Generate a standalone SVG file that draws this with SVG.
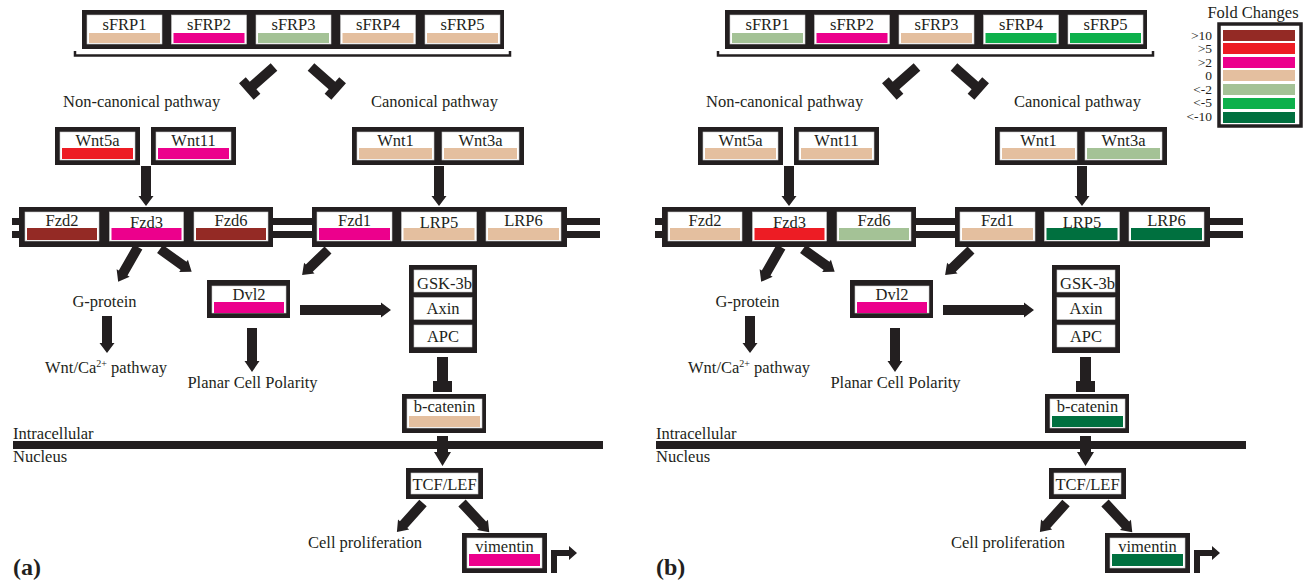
<svg xmlns="http://www.w3.org/2000/svg" width="1309" height="581" viewBox="0 0 1309 581">
<style>
.blk{fill:#231f20}
.in{fill:#fff;stroke:#c8c8c8;stroke-width:0.6}
.t{font-family:"Liberation Serif","Times New Roman",serif;font-size:16.5px;fill:#231f20}
.c{text-anchor:middle}
.e{text-anchor:end}
.lg{font-family:"Liberation Serif","Times New Roman",serif;font-size:13.5px;fill:#231f20;text-anchor:end}
.lbl{font-family:"Liberation Serif","Times New Roman",serif;font-size:24px;font-weight:bold;fill:#231f20}
.f10{fill:#942a25}
.f5{fill:#ed1c24}
.f2{fill:#ec008c}
.f0{fill:#e4bf9f}
.fm2{fill:#a4c296}
.fm5{fill:#0db04b}
.fm10{fill:#00703f}
</style>
<rect width="1309" height="581" fill="#fff"/>

<!-- ================= PANEL A ================= -->
<g id="panel-a">
<g id="a-membrane" class="blk">
<rect x="12" y="218" width="588" height="7"/>
<rect x="12" y="231" width="588" height="7"/>
<rect id="a-nuclear-membrane" x="13" y="441" width="590" height="8"/>
</g>
<g id="a-connectors" class="blk">
<polyline points="75,51 75,55.5 510,55.5 510,51" fill="none" stroke="#231f20" stroke-width="2.5"/>
<path transform="translate(274,67) rotate(138.4)" d="M0,-5H28V-11H37V11H28V5H0Z"/>
<path transform="translate(311,67) rotate(41.6)" d="M0,-5H28V-11H37V11H28V5H0Z"/>
<path transform="translate(146,166) rotate(90)" d="M0,-5H30V-7.5L40,0L30,7.5V5H0Z"/>
<path transform="translate(439,166) rotate(90)" d="M0,-5H30V-7.5L40,0L30,7.5V5H0Z"/>
<path transform="translate(138,247) rotate(119.7)" d="M0,-5H30V-7.5L40,0L30,7.5V5H0Z"/>
<path transform="translate(160,249) rotate(35.7)" d="M0,-5H29V-7.5L39,0L29,7.5V5H0Z"/>
<path transform="translate(328,250) rotate(136)" d="M0,-5H26V-7.5L36,0L26,7.5V5H0Z"/>
<path transform="translate(300,310)" d="M0,-5H81V-7.5L91,0L81,7.5V5H0Z"/>
<path transform="translate(107,316) rotate(90)" d="M0,-5H27V-7.5L37,0L27,7.5V5H0Z"/>
<path transform="translate(252,328) rotate(90)" d="M0,-5H33V-7.5L44,0L33,7.5V5H0Z"/>
<path transform="translate(442.5,357) rotate(90)" d="M0,-5.5H24V-9.5H35V9.5H24V5.5H0Z"/>
<path transform="translate(442.5,436) rotate(90)" d="M0,-5.5H16V-8.5L30,0L16,8.5V5.5H0Z"/>
<path transform="translate(423,503) rotate(132)" d="M0,-5H29V-7.5L39,0L29,7.5V5H0Z"/>
<path transform="translate(462,503) rotate(47)" d="M0,-5H30V-7.5L40,0L30,7.5V5H0Z"/>
<path d="M551,573V550H569V546L577,553L569,560V556H557V573Z"/>
</g>
<g id="a-sfrp">
<rect class="blk" x="82" y="10" width="422" height="39"/>
<g id="a-sFRP1"><rect class="in" x="87" y="15" width="75" height="29"/><rect class="f0" x="89" y="33" width="71" height="10"/><text class="t c" x="124.5" y="30">sFRP1</text></g>
<g id="a-sFRP2"><rect class="in" x="171.5" y="15" width="75" height="29"/><rect class="f2" x="173.5" y="33" width="71" height="10"/><text class="t c" x="209" y="30">sFRP2</text></g>
<g id="a-sFRP3"><rect class="in" x="256" y="15" width="75" height="29"/><rect class="fm2" x="258" y="33" width="71" height="10"/><text class="t c" x="293.5" y="30">sFRP3</text></g>
<g id="a-sFRP4"><rect class="in" x="340.5" y="15" width="75" height="29"/><rect class="f0" x="342.5" y="33" width="71" height="10"/><text class="t c" x="378" y="30">sFRP4</text></g>
<g id="a-sFRP5"><rect class="in" x="425" y="15" width="75" height="29"/><rect class="f0" x="427" y="33" width="71" height="10"/><text class="t c" x="462.5" y="30">sFRP5</text></g>
</g>
<text class="t" x="63" y="107">Non-canonical pathway</text>
<text class="t" x="371" y="107">Canonical pathway</text>
<g id="a-Wnt5a"><rect class="blk" x="55" y="127" width="85" height="38"/><rect class="in" x="60" y="132" width="75" height="28"/><rect class="f5" x="62" y="148" width="71" height="11"/><text class="t c" x="97.5" y="146">Wnt5a</text></g>
<g id="a-Wnt11"><rect class="blk" x="151" y="127" width="85" height="38"/><rect class="in" x="156" y="132" width="75" height="28"/><rect class="f2" x="158" y="148" width="71" height="11"/><text class="t c" x="193.5" y="146">Wnt11</text></g>
<g id="a-Wnt1"><rect class="blk" x="352" y="127" width="86" height="38"/><rect class="in" x="357" y="132" width="77" height="28"/><rect class="f0" x="359" y="148" width="73" height="11"/><text class="t c" x="395.5" y="146">Wnt1</text></g>
<g id="a-Wnt3a"><rect class="blk" x="438" y="127" width="86" height="38"/><rect class="in" x="442" y="132" width="77" height="28"/><rect class="f0" x="444" y="148" width="73" height="11"/><text class="t c" x="480.5" y="146">Wnt3a</text></g>
<g id="a-receptors-left">
<rect class="blk" x="19" y="207" width="254" height="40"/>
<g id="a-Fzd2"><rect class="in" x="25" y="212" width="74" height="29"/><rect class="f10" x="27" y="228" width="70" height="12"/><text class="t c" x="62" y="226">Fzd2</text></g>
<g id="a-Fzd3"><rect class="in" x="109.5" y="212" width="74" height="29"/><rect class="f2" x="111.5" y="228" width="70" height="12"/><text class="t c" x="146.5" y="228">Fzd3</text></g>
<g id="a-Fzd6"><rect class="in" x="194" y="212" width="74" height="29"/><rect class="f10" x="196" y="228" width="70" height="12"/><text class="t c" x="231" y="226">Fzd6</text></g>
</g>
<g id="a-receptors-right">
<rect class="blk" x="312" y="207" width="255" height="40"/>
<g id="a-Fzd1"><rect class="in" x="317" y="212" width="75" height="29"/><rect class="f2" x="319" y="228" width="71" height="12"/><text class="t c" x="354.5" y="226">Fzd1</text></g>
<g id="a-LRP5"><rect class="in" x="401.5" y="212" width="75" height="29"/><rect class="f0" x="403.5" y="228" width="71" height="12"/><text class="t c" x="439" y="228">LRP5</text></g>
<g id="a-LRP6"><rect class="in" x="486" y="212" width="75" height="29"/><rect class="f0" x="488" y="228" width="71" height="12"/><text class="t c" x="523.5" y="226">LRP6</text></g>
</g>
<g id="a-Dvl2"><rect class="blk" x="207" y="280" width="83" height="38"/><rect class="in" x="212" y="286" width="74" height="27"/><rect class="f2" x="214" y="302" width="70" height="11"/><text class="t c" x="249" y="300">Dvl2</text></g>
<g id="a-destruction-complex">
<rect class="blk" x="409" y="265" width="68" height="88"/>
<g id="a-GSK3b"><rect class="in" x="414" y="270" width="58" height="22"/><text class="t c" x="444.5" y="289">GSK-3b</text></g>
<g id="a-Axin"><rect class="in" x="414" y="297.5" width="58" height="22"/><text class="t c" x="443" y="314">Axin</text></g>
<g id="a-APC"><rect class="in" x="414" y="325" width="58" height="22"/><text class="t c" x="443" y="342">APC</text></g>
</g>
<text class="t c" x="104.5" y="307">G-protein</text>
<text class="t" x="45" y="373">Wnt/Ca<tspan font-size="10" dy="-6">2+</tspan><tspan dy="6"> pathway</tspan></text>
<text class="t c" x="252.5" y="388">Planar Cell Polarity</text>
<g id="a-bcatenin"><rect class="blk" x="402" y="394" width="84" height="39"/><rect class="in" x="407" y="399" width="75" height="29"/><rect class="f0" x="409" y="416" width="71" height="11"/><text class="t c" x="444.5" y="412">b-catenin</text></g>
<text class="t" x="13" y="439">Intracellular</text>
<text class="t" x="13" y="462">Nucleus</text>
<g id="a-TCFLEF"><rect class="blk" x="406" y="468" width="77" height="31"/><rect class="in" x="411" y="473" width="67" height="21"/><text class="t c" x="444.5" y="490">TCF/LEF</text></g>
<text class="t" x="308" y="548">Cell proliferation</text>
<g id="a-vimentin"><rect class="blk" x="462" y="533" width="85" height="40"/><rect class="in" x="467" y="538" width="75" height="30"/><rect class="f2" x="469" y="554" width="71" height="12"/><text class="t c" x="504.5" y="552">vimentin</text></g>
<text class="lbl" x="13" y="575">(a)</text>
</g>

<!-- ================= PANEL B ================= -->
<g id="panel-b" transform="translate(643,0)">
<g id="b-membrane" class="blk">
<rect x="12" y="218" width="588" height="7"/>
<rect x="12" y="231" width="588" height="7"/>
<rect id="b-nuclear-membrane" x="13" y="441" width="590" height="8"/>
</g>
<g id="b-connectors" class="blk">
<polyline points="75,51 75,55.5 510,55.5 510,51" fill="none" stroke="#231f20" stroke-width="2.5"/>
<path transform="translate(274,67) rotate(138.4)" d="M0,-5H28V-11H37V11H28V5H0Z"/>
<path transform="translate(311,67) rotate(41.6)" d="M0,-5H28V-11H37V11H28V5H0Z"/>
<path transform="translate(146,166) rotate(90)" d="M0,-5H30V-7.5L40,0L30,7.5V5H0Z"/>
<path transform="translate(439,166) rotate(90)" d="M0,-5H30V-7.5L40,0L30,7.5V5H0Z"/>
<path transform="translate(138,247) rotate(119.7)" d="M0,-5H30V-7.5L40,0L30,7.5V5H0Z"/>
<path transform="translate(160,249) rotate(35.7)" d="M0,-5H29V-7.5L39,0L29,7.5V5H0Z"/>
<path transform="translate(328,250) rotate(136)" d="M0,-5H26V-7.5L36,0L26,7.5V5H0Z"/>
<path transform="translate(300,310)" d="M0,-5H81V-7.5L91,0L81,7.5V5H0Z"/>
<path transform="translate(107,316) rotate(90)" d="M0,-5H27V-7.5L37,0L27,7.5V5H0Z"/>
<path transform="translate(252,328) rotate(90)" d="M0,-5H33V-7.5L44,0L33,7.5V5H0Z"/>
<path transform="translate(442.5,357) rotate(90)" d="M0,-5.5H24V-9.5H35V9.5H24V5.5H0Z"/>
<path transform="translate(442.5,436) rotate(90)" d="M0,-5.5H16V-8.5L30,0L16,8.5V5.5H0Z"/>
<path transform="translate(423,503) rotate(132)" d="M0,-5H29V-7.5L39,0L29,7.5V5H0Z"/>
<path transform="translate(462,503) rotate(47)" d="M0,-5H30V-7.5L40,0L30,7.5V5H0Z"/>
<path d="M551,573V550H569V546L577,553L569,560V556H557V573Z"/>
</g>
<g id="b-sfrp">
<rect class="blk" x="82" y="10" width="422" height="39"/>
<g id="b-sFRP1"><rect class="in" x="87" y="15" width="75" height="29"/><rect class="fm2" x="89" y="33" width="71" height="10"/><text class="t c" x="124.5" y="30">sFRP1</text></g>
<g id="b-sFRP2"><rect class="in" x="171.5" y="15" width="75" height="29"/><rect class="f2" x="173.5" y="33" width="71" height="10"/><text class="t c" x="209" y="30">sFRP2</text></g>
<g id="b-sFRP3"><rect class="in" x="256" y="15" width="75" height="29"/><rect class="f0" x="258" y="33" width="71" height="10"/><text class="t c" x="293.5" y="30">sFRP3</text></g>
<g id="b-sFRP4"><rect class="in" x="340.5" y="15" width="75" height="29"/><rect class="fm5" x="342.5" y="33" width="71" height="10"/><text class="t c" x="378" y="30">sFRP4</text></g>
<g id="b-sFRP5"><rect class="in" x="425" y="15" width="75" height="29"/><rect class="fm5" x="427" y="33" width="71" height="10"/><text class="t c" x="462.5" y="30">sFRP5</text></g>
</g>
<text class="t" x="63" y="107">Non-canonical pathway</text>
<text class="t" x="371" y="107">Canonical pathway</text>
<g id="b-Wnt5a"><rect class="blk" x="55" y="127" width="85" height="38"/><rect class="in" x="60" y="132" width="75" height="28"/><rect class="f0" x="62" y="148" width="71" height="11"/><text class="t c" x="97.5" y="146">Wnt5a</text></g>
<g id="b-Wnt11"><rect class="blk" x="151" y="127" width="85" height="38"/><rect class="in" x="156" y="132" width="75" height="28"/><rect class="f0" x="158" y="148" width="71" height="11"/><text class="t c" x="193.5" y="146">Wnt11</text></g>
<g id="b-Wnt1"><rect class="blk" x="352" y="127" width="86" height="38"/><rect class="in" x="357" y="132" width="77" height="28"/><rect class="f0" x="359" y="148" width="73" height="11"/><text class="t c" x="395.5" y="146">Wnt1</text></g>
<g id="b-Wnt3a"><rect class="blk" x="438" y="127" width="86" height="38"/><rect class="in" x="442" y="132" width="77" height="28"/><rect class="fm2" x="444" y="148" width="73" height="11"/><text class="t c" x="480.5" y="146">Wnt3a</text></g>
<g id="b-receptors-left">
<rect class="blk" x="19" y="207" width="254" height="40"/>
<g id="b-Fzd2"><rect class="in" x="25" y="212" width="74" height="29"/><rect class="f0" x="27" y="228" width="70" height="12"/><text class="t c" x="62" y="226">Fzd2</text></g>
<g id="b-Fzd3"><rect class="in" x="109.5" y="212" width="74" height="29"/><rect class="f5" x="111.5" y="228" width="70" height="12"/><text class="t c" x="146.5" y="228">Fzd3</text></g>
<g id="b-Fzd6"><rect class="in" x="194" y="212" width="74" height="29"/><rect class="fm2" x="196" y="228" width="70" height="12"/><text class="t c" x="231" y="226">Fzd6</text></g>
</g>
<g id="b-receptors-right">
<rect class="blk" x="312" y="207" width="255" height="40"/>
<g id="b-Fzd1"><rect class="in" x="317" y="212" width="75" height="29"/><rect class="f0" x="319" y="228" width="71" height="12"/><text class="t c" x="354.5" y="226">Fzd1</text></g>
<g id="b-LRP5"><rect class="in" x="401.5" y="212" width="75" height="29"/><rect class="fm10" x="403.5" y="228" width="71" height="12"/><text class="t c" x="439" y="228">LRP5</text></g>
<g id="b-LRP6"><rect class="in" x="486" y="212" width="75" height="29"/><rect class="fm10" x="488" y="228" width="71" height="12"/><text class="t c" x="523.5" y="226">LRP6</text></g>
</g>
<g id="b-Dvl2"><rect class="blk" x="207" y="280" width="83" height="38"/><rect class="in" x="212" y="286" width="74" height="27"/><rect class="f2" x="214" y="302" width="70" height="11"/><text class="t c" x="249" y="300">Dvl2</text></g>
<g id="b-destruction-complex">
<rect class="blk" x="409" y="265" width="68" height="88"/>
<g id="b-GSK3b"><rect class="in" x="414" y="270" width="58" height="22"/><text class="t c" x="444.5" y="289">GSK-3b</text></g>
<g id="b-Axin"><rect class="in" x="414" y="297.5" width="58" height="22"/><text class="t c" x="443" y="314">Axin</text></g>
<g id="b-APC"><rect class="in" x="414" y="325" width="58" height="22"/><text class="t c" x="443" y="342">APC</text></g>
</g>
<text class="t c" x="104.5" y="307">G-protein</text>
<text class="t" x="45" y="373">Wnt/Ca<tspan font-size="10" dy="-6">2+</tspan><tspan dy="6"> pathway</tspan></text>
<text class="t c" x="252.5" y="388">Planar Cell Polarity</text>
<g id="b-bcatenin"><rect class="blk" x="402" y="394" width="84" height="39"/><rect class="in" x="407" y="399" width="75" height="29"/><rect class="fm10" x="409" y="416" width="71" height="11"/><text class="t c" x="444.5" y="412">b-catenin</text></g>
<text class="t" x="13" y="439">Intracellular</text>
<text class="t" x="13" y="462">Nucleus</text>
<g id="b-TCFLEF"><rect class="blk" x="406" y="468" width="77" height="31"/><rect class="in" x="411" y="473" width="67" height="21"/><text class="t c" x="444.5" y="490">TCF/LEF</text></g>
<text class="t" x="308" y="548">Cell proliferation</text>
<g id="b-vimentin"><rect class="blk" x="462" y="533" width="85" height="40"/><rect class="in" x="467" y="538" width="75" height="30"/><rect class="fm10" x="469" y="554" width="71" height="12"/><text class="t c" x="504.5" y="552">vimentin</text></g>
<text class="lbl" x="13" y="575">(b)</text>
</g>

<!-- ================= LEGEND ================= -->
<g id="legend">
<text class="t c" x="1253" y="18">Fold Changes</text>
<rect x="1219" y="24" width="82" height="102" fill="#fff" stroke="#231f20" stroke-width="3.5"/>
<rect class="f10" x="1223" y="30" width="72" height="11"/>
<rect class="f5" x="1223" y="43" width="72" height="11"/>
<rect class="f2" x="1223" y="57" width="72" height="11"/>
<rect class="f0" x="1223" y="70" width="72" height="11"/>
<rect class="fm2" x="1223" y="84" width="72" height="11"/>
<rect class="fm5" x="1223" y="98" width="72" height="11"/>
<rect class="fm10" x="1223" y="112" width="72" height="11"/>
<text class="lg" x="1212" y="39.5">&gt;10</text>
<text class="lg" x="1212" y="53">&gt;5</text>
<text class="lg" x="1212" y="66.5">&gt;2</text>
<text class="lg" x="1212" y="80">0</text>
<text class="lg" x="1212" y="93.5">&lt;-2</text>
<text class="lg" x="1212" y="107">&lt;-5</text>
<text class="lg" x="1212" y="121">&lt;-10</text>
</g>
</svg>
